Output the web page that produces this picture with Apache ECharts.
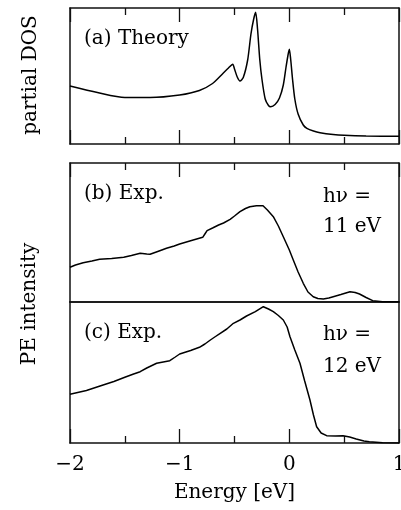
<!DOCTYPE html>
<html>
<head>
<meta charset="utf-8">
<script src="https://cdn.jsdelivr.net/npm/echarts@6/dist/echarts.min.js"></script>
<style>
  html, body { margin: 0; padding: 0; background: #fff; }
  #main { width: 401px; height: 510px; }
</style>
</head>
<body>
<div id="main"></div>
<script>
// energy axis
var energyTicks = [-2, -1, 0, 1];

// (a) theory, partial DOS (arb. units)
var theoryE = [-2.0, -1.75, -1.5, -1.27, -1.0, -0.82, -0.70, -0.61, -0.555, -0.516, -0.50, -0.475, -0.45, -0.42, -0.38, -0.35, -0.325, -0.307, -0.29, -0.27, -0.25, -0.22, -0.19, -0.17, -0.13, -0.09, -0.055, -0.03, -0.012, 0.0, 0.012, 0.03, 0.05, 0.08, 0.127, 0.16, 0.22, 0.28, 0.4, 0.5, 0.7, 1.0];
var theoryDos = [58, 51.5, 46.5, 46.5, 49, 53.5, 60.5, 70, 76, 79.7, 75, 67, 63, 66.5, 84, 110, 125, 131.7, 115, 85, 65, 45, 38.5, 37.3, 39.5, 46, 59, 77, 89, 94.7, 85, 64, 45, 30, 19, 15.7, 13, 11.3, 9.5, 8.7, 8, 7.7];

// (b) experiment, hv = 11 eV
var exp11E = [-2.0, -1.95, -1.88, -1.8, -1.73, -1.62, -1.51, -1.44, -1.36, -1.3, -1.27, -1.2, -1.12, -1.05, -1.0, -0.9, -0.79, -0.77, -0.75, -0.7, -0.645, -0.6, -0.54, -0.5, -0.45, -0.4, -0.36, -0.3, -0.24, -0.2, -0.146, -0.1, -0.055, 0.0, 0.036, 0.08, 0.127, 0.17, 0.218, 0.26, 0.31, 0.36, 0.4, 0.47, 0.553, 0.6, 0.64, 0.7, 0.76, 0.85, 1.0];
var exp11I = [34.7, 37, 39.3, 41, 42.7, 43.5, 44.7, 46.5, 48.7, 48, 47.7, 50.5, 53.7, 56, 58, 61.3, 64.7, 68, 71.3, 74, 77, 79, 82.7, 86, 90.3, 93.5, 95.3, 96.3, 96.3, 92, 85.3, 76, 65.3, 52, 42, 30, 18.7, 10, 5.3, 3.5, 3, 4, 5.3, 7.5, 10.3, 9.5, 8, 4.5, 1.3, 0.3, 0.3];

// (c) experiment, hv = 12 eV
var exp12E = [-2.0, -1.85, -1.726, -1.6, -1.5, -1.42, -1.36, -1.3, -1.21, -1.15, -1.09, -1.04, -1.0, -0.9, -0.82, -0.77, -0.72, -0.68, -0.63, -0.57, -0.51, -0.45, -0.39, -0.31, -0.237, -0.19, -0.146, -0.1, -0.055, -0.02, 0.006, 0.05, 0.097, 0.14, 0.188, 0.22, 0.249, 0.29, 0.34, 0.42, 0.49, 0.55, 0.61, 0.68, 0.73, 0.85, 1.0];
var exp12I = [48.7, 52.5, 57, 61.5, 65.7, 69, 71.3, 75, 79.7, 81, 82.3, 86, 89, 92.5, 95.7, 99, 103, 106, 109.7, 114, 119.7, 123, 127, 131.3, 136.3, 134, 131.3, 127.5, 123, 116, 106.3, 93, 79.7, 62, 43, 28, 16.3, 10, 7.3, 7, 7.3, 6, 4, 2, 1.3, 0.3, 0];

var yMax = [136, 139, 141];

function pairs(xs, ys) {
    return xs.map(function (x, i) { return [x, ys[i]]; });
}

var myChart = echarts.init(document.getElementById('main'));

var font = 'DejaVu Serif';
var frame = { show: true, onZero: false, lineStyle: { color: '#111', width: 1.5 } };

function xAxisFor(grid, pos, ticks, labels) {
    return {
        gridIndex: grid,
        type: 'value',
        position: pos,
        min: -2,
        max: 1,
        interval: 1,
        axisLine: frame,
        axisTick: { show: ticks, inside: true, length: 14, lineStyle: { color: '#111', width: 1.3 } },
        minorTick: { show: ticks, splitNumber: 2, length: 7, lineStyle: { color: '#111', width: 1.3 } },
        axisLabel: {
            show: labels,
            margin: 12,
            fontFamily: font,
            fontSize: 20,
            color: '#000',
            formatter: function (v) { return v < 0 ? '\u2212' + Math.abs(v) : String(v); }
        },
        splitLine: { show: false },
        name: labels ? 'Energy [eV]' : '',
        nameLocation: 'middle',
        nameGap: 40,
        nameTextStyle: { fontFamily: font, fontSize: 20, color: '#000' }
    };
}

function yAxisFor(grid, pos) {
    return {
        gridIndex: grid,
        type: 'value',
        position: pos,
        min: 0,
        max: yMax[grid],
        axisLine: frame,
        axisTick: { show: false },
        axisLabel: { show: false },
        splitLine: { show: false }
    };
}

function label(text, x, y, align, rot) {
    return {
        type: 'text',
        x: x,
        y: y,
        rotation: rot || 0,
        style: {
            text: text,
            fontFamily: font,
            fontSize: 20,
            fill: '#000',
            align: align,
            verticalAlign: 'middle'
        }
    };
}

option = {
    animation: false,
    backgroundColor: '#fff',
    grid: [
        { left: 70, top: 8, width: 329, height: 136, outerBoundsMode: 'none' },
        { left: 70, top: 163, width: 329, height: 139, outerBoundsMode: 'none' },
        { left: 70, top: 302, width: 329, height: 141, outerBoundsMode: 'none' }
    ],
    xAxis: [
        xAxisFor(0, 'bottom', true, false),
        xAxisFor(0, 'top', true, false),
        xAxisFor(1, 'bottom', false, false),
        xAxisFor(1, 'top', true, false),
        xAxisFor(2, 'bottom', true, true),
        xAxisFor(2, 'top', false, false)
    ],
    yAxis: [
        yAxisFor(0, 'left'), yAxisFor(0, 'right'),
        yAxisFor(1, 'left'), yAxisFor(1, 'right'),
        yAxisFor(2, 'left'), yAxisFor(2, 'right')
    ],
    graphic: [
        label('partial DOS', 31, 75, 'center', Math.PI / 2),
        label('PE intensity', 30, 304, 'center', Math.PI / 2),
        label('(a) Theory', 84, 39, 'left'),
        label('(b) Exp.', 84, 194, 'left'),
        label('h\u03bd =', 347, 197, 'center'),
        label('11 eV', 352, 227, 'center'),
        label('(c) Exp.', 84, 333, 'left'),
        label('h\u03bd =', 347, 335, 'center'),
        label('12 eV', 352, 367, 'center')
    ],
    series: [
        {
            type: 'line', xAxisIndex: 0, yAxisIndex: 0,
            data: pairs(theoryE, theoryDos),
            smooth: 0.25, showSymbol: false,
            lineStyle: { color: '#000', width: 1.5 }
        },
        {
            type: 'line', xAxisIndex: 2, yAxisIndex: 2,
            data: pairs(exp11E, exp11I),
            showSymbol: false,
            lineStyle: { color: '#000', width: 1.5 }
        },
        {
            type: 'line', xAxisIndex: 4, yAxisIndex: 4,
            data: pairs(exp12E, exp12I),
            showSymbol: false,
            lineStyle: { color: '#000', width: 1.5 }
        }
    ]
};

myChart.setOption(option);
</script>
</body>
</html>
